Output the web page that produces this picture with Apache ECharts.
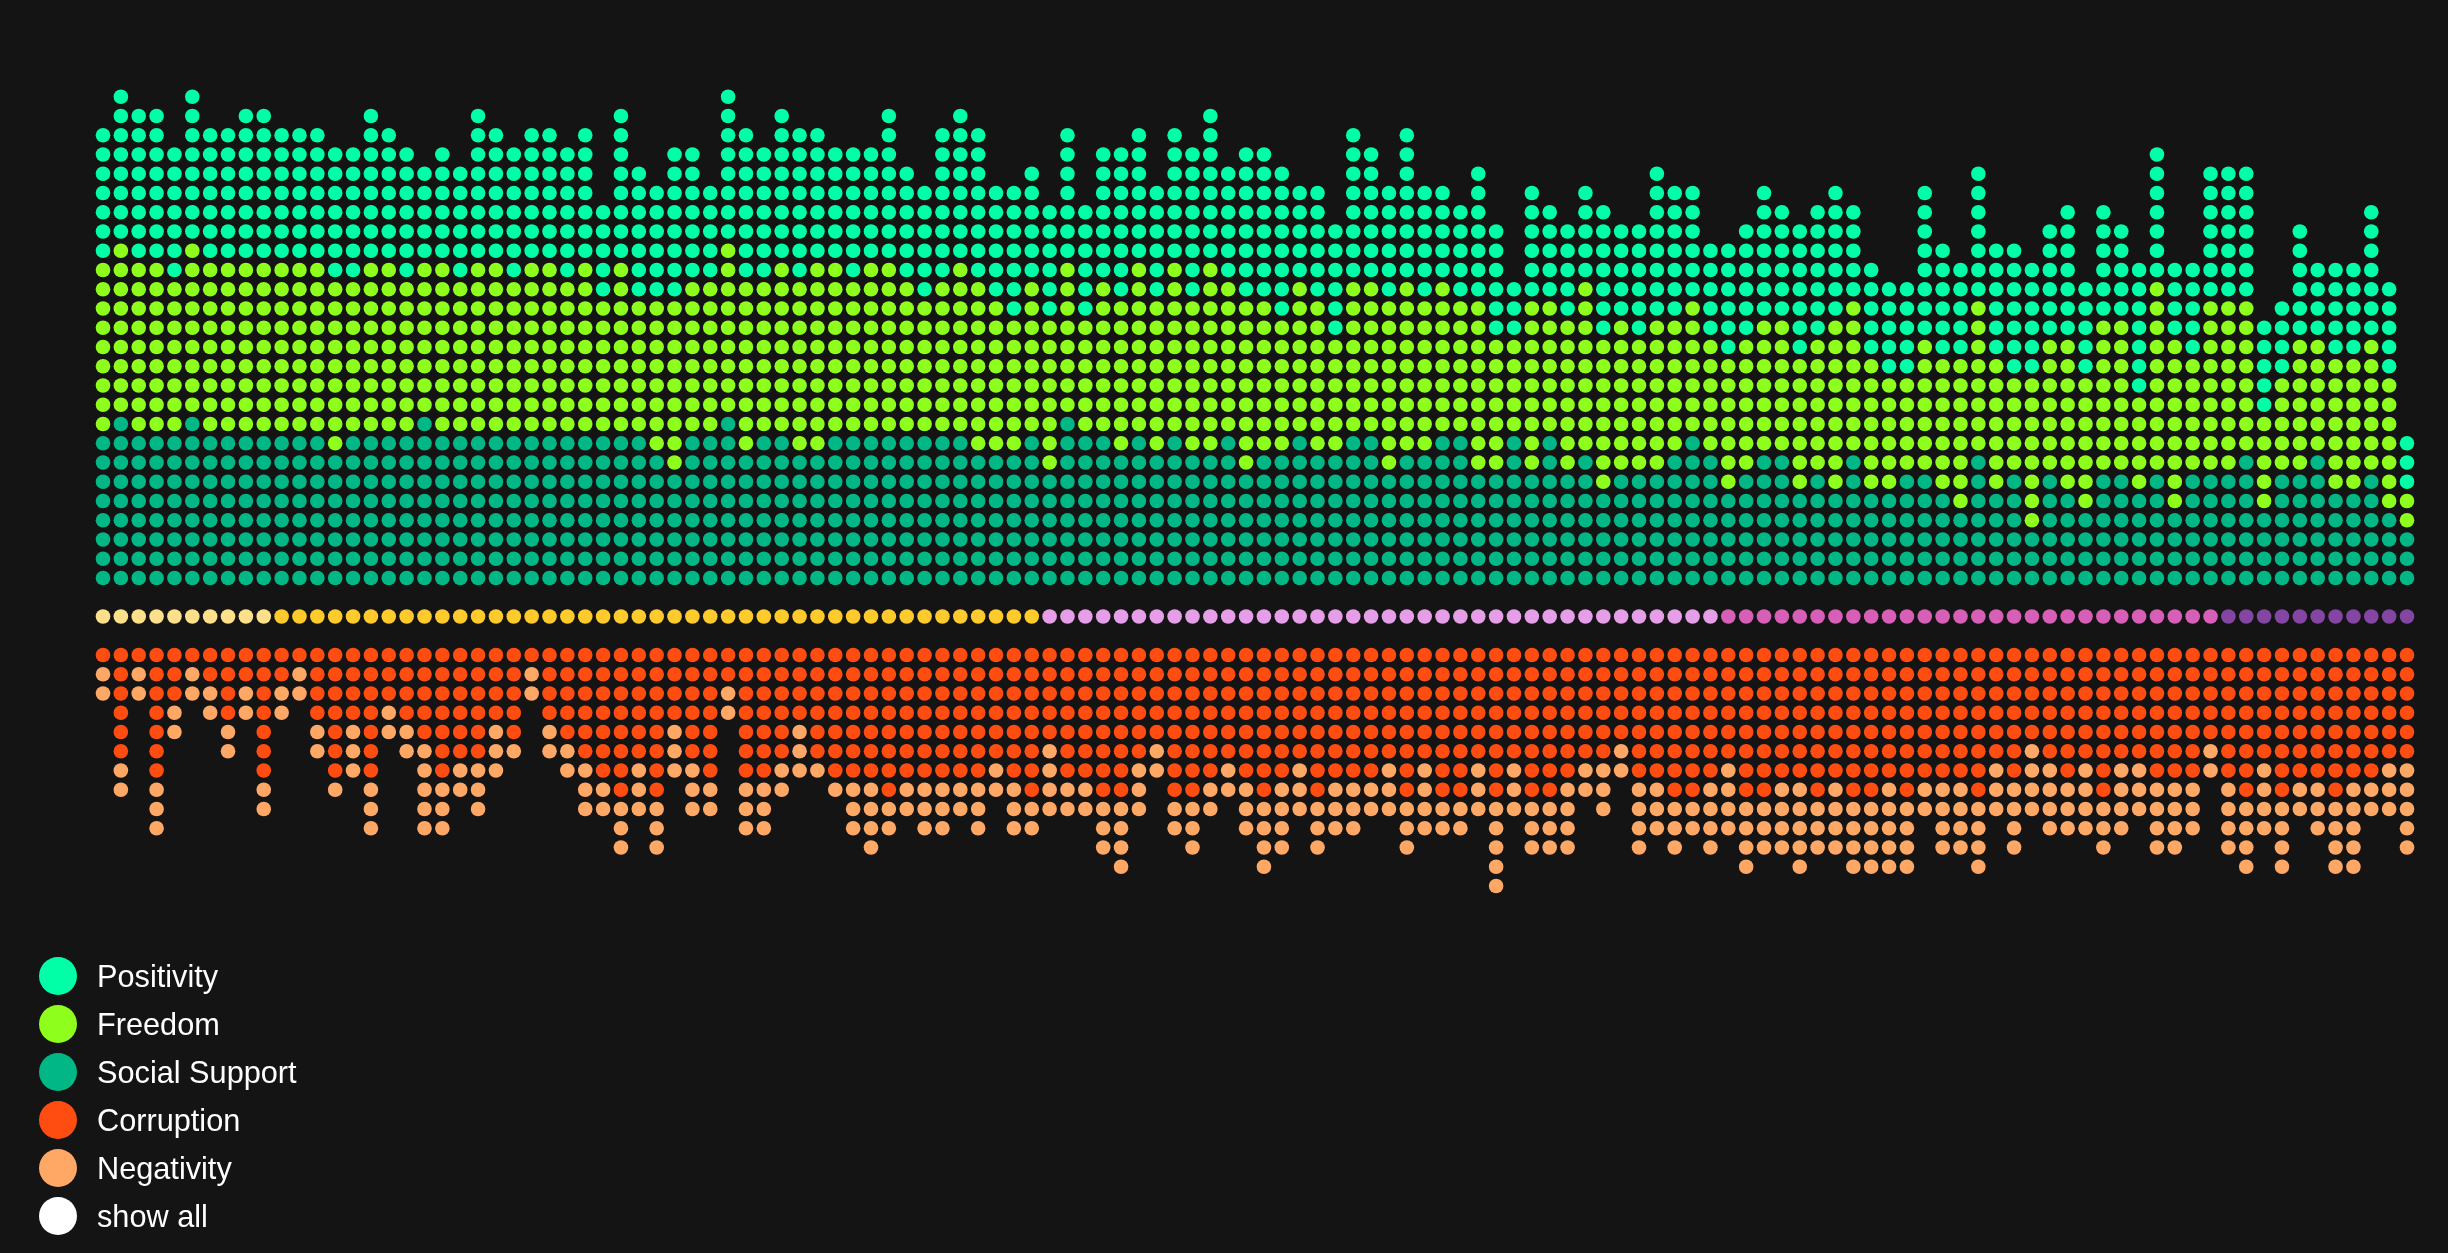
<!DOCTYPE html>
<html>
<head>
<meta charset="utf-8">
<title>Happiness dots</title>
<style>
	html, body { margin: 0; padding: 0; background: #141414; }
	#main { width: 2448px; height: 1253px; }
</style>
<script src="https://cdn.jsdelivr.net/npm/echarts@6/dist/echarts.min.js"></script>
</head>
<body>
<div id="main"></div>
<script>
// dots per column, one column per country
const social = [
	8,9,8,8,8,9,8,8,8,8, 8,8,8,7,8,8,8,8,9,8, 8,8,8,8,8,8,8,8,8,8, 8,7,6,8,8,9,7,8,8,7,
	7,8,8,8,8,8,8,8,8,7, 7,7,8,6,9,8,8,7,8,7, 8,7,7,8,6,7,7,8,7,7, 8,8,6,7,7,8,8,6,6,8,
	6,8,6,7,5,6,6,6,7,8, 7,5,6,7,7,5,6,5,7,5, 5,6,6,5,4,7,5,6,3,6, 5,4,6,6,5,6,4,6,6,6,
	7,4,6,6,7,5,5,6,4,3
]
const freedom = [
	9,9,9,9,8,9,9,9,9,9, 9,9,9,9,8,9,9,8,8,9, 8,9,9,8,9,9,8,9,7,9, 7,8,9,8,8,9,9,8,9,9,
	10,9,8,9,9,8,7,8,9,9, 8,7,8,8,8,6,8,8,9,8, 9,8,10,8,9,8,7,8,8,6, 8,8,9,9,8,8,7,9,7,5,
	9,7,8,9,8,8,7,8,7,7, 6,7,7,7,7,7,7,9,8,7, 6,5,7,7,8,8,7,5,8,7, 8,7,8,8,5,10,9,6,9,9,
	8,5,5,7,6,7,7,7,7,2
]
const positivity = [
	7,8,8,8,7,8,7,7,8,8, 7,7,7,7,7,8,7,7,5,6, 6,8,7,7,7,7,7,7,5,8, 7,6,8,7,5,8,8,7,8,8,
	7,6,7,6,8,6,6,8,8,8, 6,7,6,6,7,6,7,8,7,6, 7,8,8,6,8,8,8,5,6,6, 8,7,6,8,6,5,5,7,6,3,
	6,5,5,5,7,5,6,8,7,6, 5,6,6,7,6,7,7,7,5,5, 5,5,8,6,5,7,6,7,6,6, 7,5,6,5,7,7,4,5,7,7,
	7,5,4,6,4,5,5,7,5,3
]
const corruption = [
	1,6,1,7,3,1,2,4,2,7, 2,1,4,7,4,7,3,4,5,7, 6,6,4,5,1,4,5,6,7,8, 6,8,4,6,7,2,7,7,6,4,
	6,7,7,7,8,7,7,7,7,7, 6,7,8,5,7,7,8,8,6,5, 8,8,7,6,7,8,7,6,8,7, 7,7,6,8,6,8,8,6,8,6,
	8,8,7,6,6,5,7,7,8,8, 7,6,8,8,7,7,8,7,8,8, 7,8,7,7,7,8,6,7,5,6, 7,6,8,6,6,7,7,7,5,7,
	8,6,8,7,7,8,7,7,6,6
]
const negativity = [
	2,2,2,3,2,2,2,2,2,2, 2,2,2,1,3,3,2,2,5,3, 2,3,3,1,2,2,2,3,2,3, 3,3,3,3,2,2,3,3,2,3,
	1,1,3,4,2,2,3,3,2,3, 2,3,2,4,2,2,3,4,3,2, 2,3,2,2,3,4,4,3,3,3, 3,2,3,3,4,2,2,3,5,3,
	3,3,4,2,3,2,4,3,3,2, 4,4,4,3,4,5,3,4,4,4, 5,4,2,4,4,4,3,4,4,4, 3,4,3,4,3,4,4,3,2,4,
	4,4,4,2,3,4,5,2,3,5
]
// how many columns fall in each band of the middle row
const bandSizes = [10, 43, 38, 28, 11]
const bandColors = ['#ffe08a', '#ffca2b', '#e69ee8', '#d75fb8', '#8445a3']

const colors = {
	Positivity: '#00ffa6',
	Freedom: '#8eff1c',
	'Social Support': '#00b785',
	Corruption: '#ff4d12',
	Negativity: '#ffa866'
}
const legendNames = ['Positivity', 'Freedom', 'Social Support', 'Corruption', 'Negativity', 'show all']
const dotSize = 14.6
const gapRows = 2

// stack dots on each column, first row sits gapRows away from the middle
function stack(counts, below, direction) {
	const points = []
	counts.forEach((n, col) => {
		const start = below ? below[col] : 0
		for (let k = start; k < start + n; k++) {
			points.push([col, direction * (k + gapRows)])
		}
	})
	return points
}

function dotSeries(name, color, data) {
	return {
		name: name,
		type: 'scatter',
		symbol: 'circle',
		symbolSize: dotSize,
		itemStyle: { color: color, opacity: 1 },
		silent: true,
		progressive: 0,
		data: data
	}
}

const socialTop = social.slice()
const freedomTop = social.map((v, i) => v + freedom[i])

const series = [
	dotSeries('Positivity', colors.Positivity, stack(positivity, freedomTop, 1)),
	dotSeries('Freedom', colors.Freedom, stack(freedom, socialTop, 1)),
	dotSeries('Social Support', colors['Social Support'], stack(social, null, 1)),
	dotSeries('Corruption', colors.Corruption, stack(corruption, null, -1)),
	dotSeries('Negativity', colors.Negativity, stack(negativity, corruption, -1)),
	dotSeries('show all', '#ffffff', [])
]

// middle row, coloured by band
let col = 0
bandSizes.forEach((size, b) => {
	const points = []
	for (let i = 0; i < size; i++) {
		points.push([col++, 0])
	}
	series.push(dotSeries('band' + b, bandColors[b], points))
})

const myChart = echarts.init(document.getElementById('main'), null, { renderer: 'canvas' })

myChart.setOption({
	backgroundColor: '#141414',
	animation: false,
	tooltip: { show: false },
	legend: {
		data: legendNames,
		orient: 'vertical',
		left: 39,
		top: 957,
		padding: 0,
		icon: 'circle',
		itemWidth: 38,
		itemHeight: 38,
		itemGap: 10,
		selectedMode: false,
		formatter: '{t|{name}}',
		textStyle: {
			rich: {
				t: {
					color: '#ffffff',
					fontFamily: '"Liberation Sans", Arial, sans-serif',
					fontSize: 30.7,
					padding: [5, 0, 0, 15]
				}
			}
		}
	},
	grid: {
		left: 103,
		right: 41,
		top: 96.75,
		bottom: 367
	},
	xAxis: {
		type: 'value',
		show: false,
		min: 0,
		max: social.length - 1
	},
	yAxis: {
		type: 'value',
		show: false,
		min: -14,
		max: 27
	},
	series: series
})
</script>
</body>
</html>
